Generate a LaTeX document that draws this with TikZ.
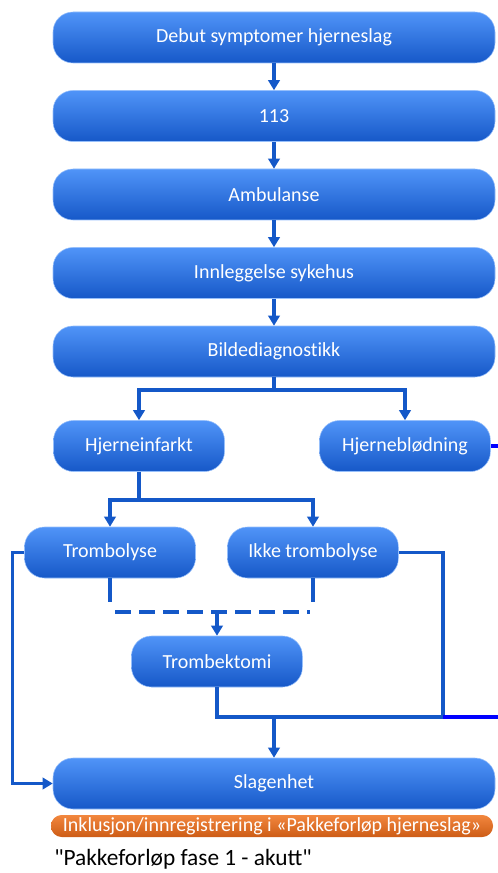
\documentclass[tikz,border=0pt]{standalone}
\usepackage{fontspec}
\setmainfont{Carlito}
\newfontfamily\boxfont[Ligatures=NoCommon]{Carlito}
\usetikzlibrary{arrows.meta}
\definecolor{boxtop}{RGB}{80,148,248}
\definecolor{boxbottom}{RGB}{22,88,200}
\definecolor{linefig}{RGB}{20,88,200}
\definecolor{purefig}{RGB}{0,0,255}
\definecolor{orangetop}{RGB}{242,135,62}
\definecolor{orangebottom}{RGB}{205,92,22}
\tikzset{
    stepbox/.style={rounded corners=15pt, top color=boxtop, bottom color=boxbottom, draw=boxtop!60!white, line width=0.4pt, text=white, font=\boxfont\fontsize{15}{17}\selectfont, minimum height=38.25pt, inner sep=0pt},
    widebox/.style={stepbox, minimum width=331.5pt},
    smallbox/.style={stepbox, minimum width=128.25pt},
    orangebar/.style={rounded corners=8pt, top color=orangetop, bottom color=orangebottom, text=white, font=\fontsize{15}{17}\selectfont, minimum width=331.5pt, minimum height=16.5pt, inner sep=0pt},
    bluesolid/.style={line width=2.4pt, color=linefig},
    bluedashed/.style={line width=2.4pt, color=linefig, dash pattern=on 12pt off 6pt},
    puresolid/.style={line width=2.4pt, color=purefig},
    arrowed/.style={-{Triangle[width=8.5pt,length=7.5pt]}}
}

\begin{document}
\begin{tikzpicture}[x=0.75pt, y=-0.75pt]
        \useasboundingbox (0,0) rectangle (498,873);

        \node[widebox] (debut) at (274,37.5) {Debut symptomer hjerneslag};
        \node[widebox] (nodd) at (274,116) {113};
        \node[widebox] (ambulanse) at (274,194.5) {Ambulanse};
        \node[widebox] (innlegg) at (274,273) {Innleggelse sykehus};
        \node[widebox] (bilde) at (274,351.5) {Bildediagnostikk};
        \node[smallbox] (infarkt) at (139,446) {Hjerneinfarkt};
        \node[smallbox] (blodning) at (405,446) {Hjerneblødning};
        \node[smallbox] (tromb) at (110,552.5) {Trombolyse};
        \node[smallbox] (ikke) at (313,552.5) {Ikke trombolyse};
        \node[smallbox] (trombek) at (217,661.5) {Trombektomi};
        \node[widebox] (slag) at (274,783.5) {Slagenhet};
        \node[orangebar] (inklusjon) at (272,826) {Inklusjon/innregistrering i «Pakkeforløp hjerneslag»};
        \node[anchor=west, inner sep=0pt, font=\fontsize{17.5}{20}\selectfont] (fase) at (54,859) {\textquotedbl Pakkeforløp fase 1 - akutt\textquotedbl};

        \coordinate (split1) at (274,390);
        \coordinate (split2) at (139,500);
        \coordinate (trombend) at (110,602);
        \coordinate (ikkeend) at (313,602);
        \coordinate (dashL) at (115,612);
        \coordinate (dashR) at (310,612);
        \coordinate (dashmid) at (217,612);
        \coordinate (joinR) at (443,717);
        \coordinate (join) at (274,717);

        \draw[bluesolid, arrowed] (debut) -- (nodd);
        \draw[bluesolid, arrowed] (nodd) -- (ambulanse);
        \draw[bluesolid, arrowed] (ambulanse) -- (innlegg);
        \draw[bluesolid, arrowed] (innlegg) -- (bilde);

        \draw[bluesolid] (bilde) -- (split1);
        \draw[bluesolid, arrowed] (split1) -| (infarkt);
        \draw[bluesolid, arrowed] (split1) -| (blodning);

        \draw[bluesolid] (infarkt) -- (split2);
        \draw[bluesolid, arrowed] (split2) -| (tromb);
        \draw[bluesolid, arrowed] (split2) -| (ikke);

        \draw[bluesolid] (tromb) -- (trombend);
        \draw[bluesolid] (ikke) -- (ikkeend);
        \draw[bluedashed] (dashL) -- (dashR);
        \draw[bluesolid, arrowed] (dashmid) -- (trombek);

        \draw[bluesolid] (trombek) |- (joinR);
        \draw[bluesolid] (ikke.east) -| (joinR);
        \draw[puresolid] (blodning.east) -- ++(9,0) |- (joinR);
        \draw[bluesolid, arrowed] (join) -- (slag);
        \draw[bluesolid, arrowed] (tromb.west) -- ++(-12,0) |- (slag.west);

    \end{tikzpicture}
\end{document}
